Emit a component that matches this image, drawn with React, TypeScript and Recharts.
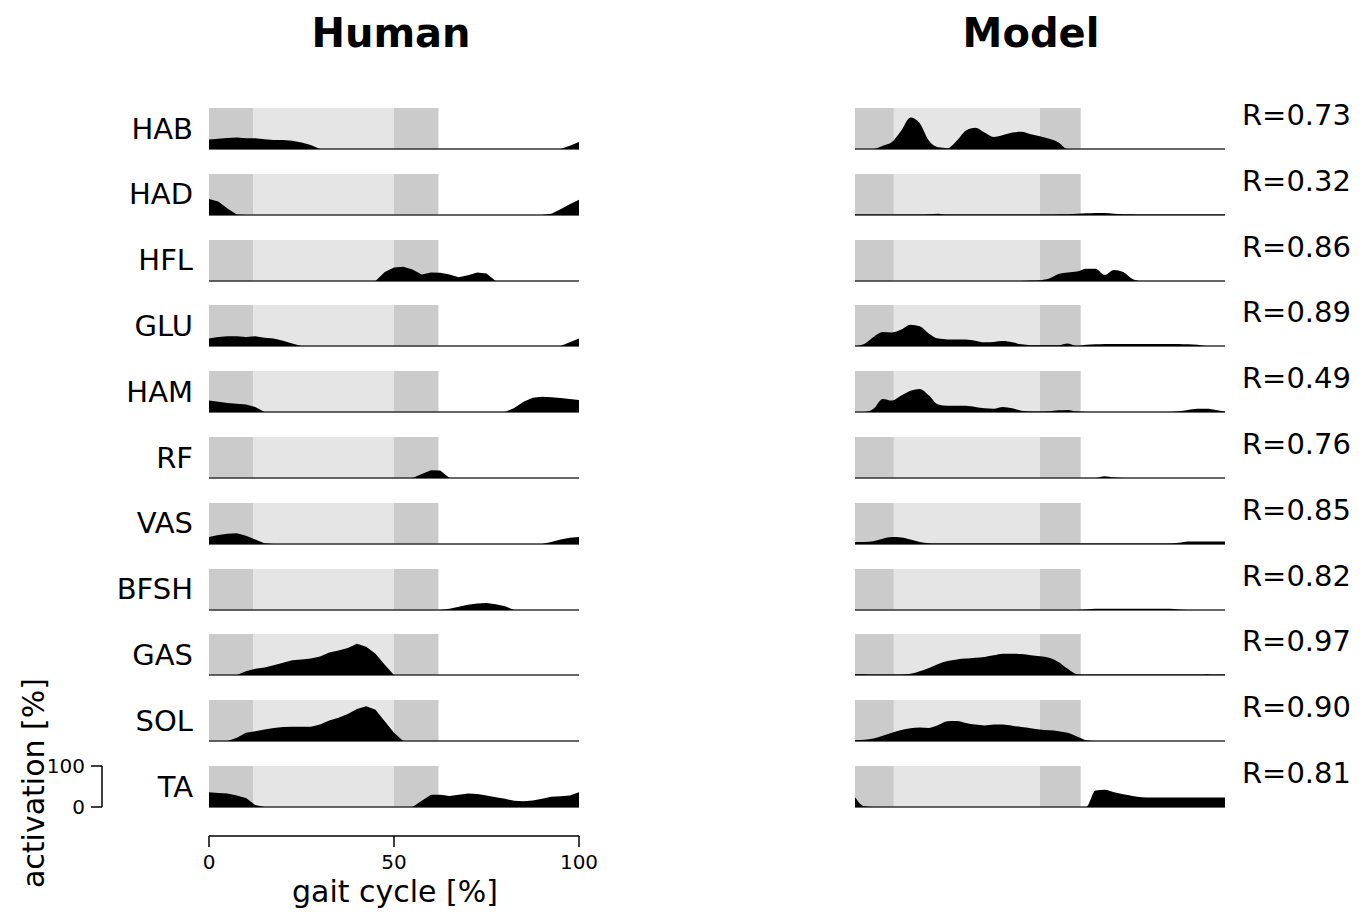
import React from 'react';
import { AreaChart, Area, XAxis, YAxis, ReferenceArea, ReferenceLine } from 'recharts';

// gait cycle samples (%)
const GAIT = [
  0, 2.5, 5, 7.5, 10, 12.5, 15, 17.5, 20, 22.5,
  25, 27.5, 30, 32.5, 35, 37.5, 40, 42.5, 45, 47.5,
  50, 52.5, 55, 57.5, 60, 62.5, 65, 67.5, 70, 72.5,
  75, 77.5, 80, 82.5, 85, 87.5, 90, 92.5, 95, 97.5,
  100,
];

const MUSCLES = ['HAB', 'HAD', 'HFL', 'GLU', 'HAM', 'RF', 'VAS', 'BFSH', 'GAS', 'SOL', 'TA'];
const R_VALUES = ['0.73', '0.32', '0.86', '0.89', '0.49', '0.76', '0.85', '0.82', '0.97', '0.90', '0.81'];

// human EMG activation [%]
const humanHAB = [23, 25, 27, 28, 26, 26, 24, 22, 22, 20, 16, 10, 0, 0, 0, 0, 0, 0, 0, 0, 0, 0, 0, 0, 0, 0, 0, 0, 0, 0, 0, 0, 0, 0, 0, 0, 0, 0, 0, 8, 17];
const humanHAD = [39, 33, 16, 1, 0, 0, 0, 0, 0, 0, 0, 0, 0, 0, 0, 0, 0, 0, 0, 0, 0, 0, 0, 0, 0, 0, 0, 0, 0, 0, 0, 0, 0, 0, 0, 0, 0, 3, 14, 26, 37];
const humanHFL = [0, 0, 0, 0, 0, 0, 0, 0, 0, 0, 0, 0, 0, 0, 0, 0, 0, 0, 0, 22, 33, 35, 28, 16, 21, 20, 16, 9, 14, 21, 18, 0, 0, 0, 0, 0, 0, 0, 0, 0, 0];
const humanGLU = [18, 22, 24, 24, 22, 24, 20, 18, 13, 6, 0, 0, 0, 0, 0, 0, 0, 0, 0, 0, 0, 0, 0, 0, 0, 0, 0, 0, 0, 0, 0, 0, 0, 0, 0, 0, 0, 0, 0, 9, 18];
const humanHAM = [28, 25, 22, 20, 18, 12, 0, 0, 0, 0, 0, 0, 0, 0, 0, 0, 0, 0, 0, 0, 0, 0, 0, 0, 0, 0, 0, 0, 0, 0, 0, 0, 0, 10, 25, 35, 37, 36, 34, 32, 29];
const humanRF = [0, 0, 0, 0, 0, 0, 0, 0, 0, 0, 0, 0, 0, 0, 0, 0, 0, 0, 0, 0, 0, 0, 0, 10, 19, 18, 0, 0, 0, 0, 0, 0, 0, 0, 0, 0, 0, 0, 0, 0, 0];
const humanVAS = [17, 22, 25, 26, 20, 11, 2, 0, 0, 0, 0, 0, 0, 0, 0, 0, 0, 0, 0, 0, 0, 0, 0, 0, 0, 0, 0, 0, 0, 0, 0, 0, 0, 0, 0, 0, 0, 5, 11, 15, 17];
const humanBFSH = [0, 0, 0, 0, 0, 0, 0, 0, 0, 0, 0, 0, 0, 0, 0, 0, 0, 0, 0, 0, 0, 0, 0, 0, 0, 0, 3, 8, 13, 16, 17, 14, 9, 0, 0, 0, 0, 0, 0, 0, 0];
const humanGAS = [0, 0, 0, 0, 9, 15, 18, 24, 30, 36, 38, 40, 45, 55, 60, 66, 76, 69, 52, 25, 0, 0, 0, 0, 0, 0, 0, 0, 0, 0, 0, 0, 0, 0, 0, 0, 0, 0, 0, 0, 0];
const humanSOL = [0, 0, 0, 8, 20, 24, 28, 32, 34, 35, 35, 35, 40, 50, 57, 66, 78, 85, 76, 48, 20, 0, 0, 0, 0, 0, 0, 0, 0, 0, 0, 0, 0, 0, 0, 0, 0, 0, 0, 0, 0];
const humanTA = [36, 34, 33, 28, 22, 5, 0, 0, 0, 0, 0, 0, 0, 0, 0, 0, 0, 0, 0, 0, 0, 0, 0, 15, 30, 30, 27, 30, 33, 32, 28, 24, 20, 15, 14, 16, 20, 25, 26, 28, 36];

// model activation [%]
const modelHAB = [0, 0, 0, 8, 17, 45, 77, 63, 20, 4, 2, 20, 45, 52, 40, 29, 34, 40, 42, 36, 31, 25, 16, 0, 0, 0, 0, 0, 0, 0, 0, 0, 0, 0, 0, 0, 0, 0, 0, 0, 0];
const modelHAD = [1, 1, 1, 1, 1, 1, 1, 1, 2, 3, 1, 1, 1, 1, 1, 1, 1, 1, 1, 1, 1, 1, 2, 2, 3, 4, 5, 5, 3, 2, 2, 1, 1, 1, 1, 1, 1, 1, 1, 1, 1];
const modelHFL = [0, 0, 0, 0, 0, 0, 0, 0, 0, 0, 0, 0, 0, 0, 0, 0, 0, 0, 0, 1, 2, 6, 17, 21, 23, 30, 30, 15, 27, 22, 5, 0, 0, 0, 0, 0, 0, 0, 0, 0, 0];
const modelGLU = [0, 5, 22, 34, 33, 40, 52, 48, 30, 18, 16, 16, 16, 13, 9, 10, 12, 9, 4, 2, 2, 2, 2, 6, 0, 3, 4, 5, 5, 5, 5, 5, 5, 5, 5, 5, 4, 3, 0, 0, 0];
const modelHAM = [0, 0, 8, 32, 28, 40, 52, 56, 40, 18, 15, 15, 15, 12, 9, 8, 12, 9, 3, 1, 1, 2, 4, 5, 1, 0, 0, 0, 0, 0, 0, 0, 0, 0, 0, 2, 5, 8, 8, 5, 1];
const modelRF = [0, 0, 0, 0, 0, 0, 0, 0, 0, 0, 0, 0, 0, 0, 0, 0, 0, 0, 0, 0, 0, 0, 0, 0, 0, 0, 0, 4, 1, 0, 0, 0, 0, 0, 0, 0, 0, 0, 0, 0, 0];
const modelVAS = [5, 5, 7, 13, 17, 16, 11, 5, 2, 1, 1, 1, 1, 1, 1, 1, 1, 1, 1, 1, 1, 1, 1, 1, 1, 1, 1, 1, 1, 1, 1, 1, 1, 1, 1, 3, 6, 6, 6, 6, 6];
const modelBFSH = [0, 0, 0, 0, 0, 0, 0, 0, 0, 0, 0, 0, 0, 0, 0, 0, 0, 0, 0, 0, 0, 0, 0, 0, 0, 1, 3, 3, 3, 3, 3, 3, 3, 3, 3, 1, 0, 0, 0, 0, 0];
const modelGAS = [2, 2, 1, 1, 1, 1, 3, 9, 17, 27, 34, 38, 40, 42, 44, 48, 52, 52, 51, 48, 46, 42, 32, 15, 2, 1, 1, 1, 1, 1, 1, 1, 1, 1, 1, 1, 1, 1, 2, 1, 1];
const modelSOL = [2, 3, 6, 13, 20, 27, 31, 33, 32, 39, 48, 49, 44, 40, 38, 40, 40, 37, 34, 31, 28, 26, 24, 20, 11, 2, 0, 0, 0, 0, 0, 0, 0, 0, 0, 0, 0, 0, 0, 0, 0];
const modelTA = [24, 2, 0, 0, 0, 0, 0, 0, 0, 0, 0, 0, 0, 0, 0, 0, 0, 0, 0, 0, 0, 0, 0, 0, 0, 0, 40, 42, 36, 31, 27, 24, 23, 23, 23, 23, 23, 23, 23, 23, 23];

const HUMAN = [humanHAB, humanHAD, humanHFL, humanGLU, humanHAM, humanRF, humanVAS, humanBFSH, humanGAS, humanSOL, humanTA];
const MODEL = [modelHAB, modelHAD, modelHFL, modelGLU, modelHAM, modelRF, modelVAS, modelBFSH, modelGAS, modelSOL, modelTA];

// stance phases: [start, end, colour]
const HUMAN_BANDS: [number, number, string][] = [[0, 12, '#cbcbcb'], [12, 50, '#e5e5e5'], [50, 62, '#cbcbcb']];
const MODEL_BANDS: [number, number, string][] = [[0, 10.5, '#cbcbcb'], [10.5, 50, '#e5e5e5'], [50, 61, '#cbcbcb']];

const FONT = 'DejaVu Sans, Verdana, sans-serif';
const LEFT_X = 209;
const RIGHT_X = 855;
const PANEL_W = 370;
const PANEL_H = 41;
const BASE0 = 149;
const STEP = 65.8;

const toRows = (vals: number[]) => GAIT.map((x, i) => ({ x, v: vals[i] }));

function Panel({ vals, bands, left, base, curve }: any) {
  return (
    <div style={{ position: 'absolute', left, top: base - PANEL_H }}>
      <AreaChart width={PANEL_W} height={PANEL_H + 3} data={toRows(vals)} margin={{ top: 0, right: 0, bottom: 3, left: 0 }}>
        <XAxis dataKey="x" type="number" domain={[0, 100]} hide />
        <YAxis domain={[0, 100]} hide allowDataOverflow />
        {bands.map(([a, b, c]: [number, number, string]) => (
          <ReferenceArea key={a} x1={a} x2={b} y1={0} y2={100} fill={c} fillOpacity={1} stroke="none" zIndex={-50} />
        ))}
        <ReferenceLine y={0} stroke="#333" strokeWidth={1.3} zIndex={-40} />
        <Area dataKey="v" type={curve} fill="#000" fillOpacity={1} stroke="none" isAnimationActive={false} />
      </AreaChart>
    </div>
  );
}

export default function App() {
  const axisRows = toRows(humanTA);
  return (
    <div style={{ position: 'absolute', left: 0, top: 0, width: 1363, height: 916, background: '#fff', fontFamily: FONT }}>
      {MUSCLES.map((m, i) => (
        <React.Fragment key={m}>
          <Panel vals={HUMAN[i]} bands={HUMAN_BANDS} left={LEFT_X} base={BASE0 + i * STEP} curve="linear" />
          <Panel vals={MODEL[i]} bands={MODEL_BANDS} left={RIGHT_X} base={BASE0 + i * STEP} curve="monotone" />
        </React.Fragment>
      ))}

      {/* gait cycle axis */}
      <div style={{ position: 'absolute', left: LEFT_X - 20, top: 834 }}>
        <AreaChart width={PANEL_W + 40} height={50} data={axisRows} margin={{ top: 0, right: 20, bottom: 0, left: 20 }}>
          <XAxis
            dataKey="x" type="number" domain={[0, 100]} ticks={[0, 50, 100]} interval={0} height={48}
            tickSize={11} tickMargin={8}
            axisLine={{ stroke: '#000', strokeWidth: 1.5 }} tickLine={{ stroke: '#000', strokeWidth: 1.5 }}
            tick={{ fill: '#000', fontSize: 20, fontFamily: FONT }}
          />
          <YAxis hide domain={[0, 100]} />
        </AreaChart>
      </div>

      {/* activation scale bar (uses the TA trace only to set up the scale) */}
      <div style={{ position: 'absolute', left: 20, top: 746 }}>
        <AreaChart width={90} height={81} data={axisRows} margin={{ top: 20, right: 0, bottom: 20, left: 0 }}>
          <XAxis hide dataKey="x" type="number" domain={[0, 100]} />
          <YAxis
            dataKey="v" type="number" domain={[0, 100]} allowDataOverflow ticks={[0, 100]} interval={0}
            width={82} tickSize={11} tickMargin={6}
            axisLine={{ stroke: '#000', strokeWidth: 1.5 }} tickLine={{ stroke: '#000', strokeWidth: 1.5 }}
            tick={{ fill: '#000', fontSize: 20, fontFamily: FONT }}
          />
          <Area dataKey="v" fill="none" stroke="none" isAnimationActive={false} />
        </AreaChart>
      </div>

      <svg width={1363} height={916} style={{ position: 'absolute', left: 0, top: 0, pointerEvents: 'none' }}>
        <text x={391} y={33} textAnchor="middle" dominantBaseline="central" fontSize={40} fontWeight="bold" fontFamily={FONT}>Human</text>
        <text x={1031} y={33} textAnchor="middle" dominantBaseline="central" fontSize={40} fontWeight="bold" fontFamily={FONT}>Model</text>
        {MUSCLES.map((m, i) => (
          <text key={m} x={193} y={BASE0 + i * STEP - 20.5} textAnchor="end" dominantBaseline="central" fontSize={29} fontFamily={FONT}>{m}</text>
        ))}
        {R_VALUES.map((r, i) => (
          <text key={i} x={1351} y={BASE0 + i * STEP - 34} textAnchor="end" dominantBaseline="central" fontSize={29} fontFamily={FONT}>R={r}</text>
        ))}
        <text x={395} y={902} textAnchor="middle" fontSize={30} fontFamily={FONT}>gait cycle [%]</text>
        <text x={33} y={783} textAnchor="middle" dominantBaseline="central" fontSize={30} fontFamily={FONT} transform="rotate(-90 33 783)">activation [%]</text>
      </svg>
    </div>
  );
}
